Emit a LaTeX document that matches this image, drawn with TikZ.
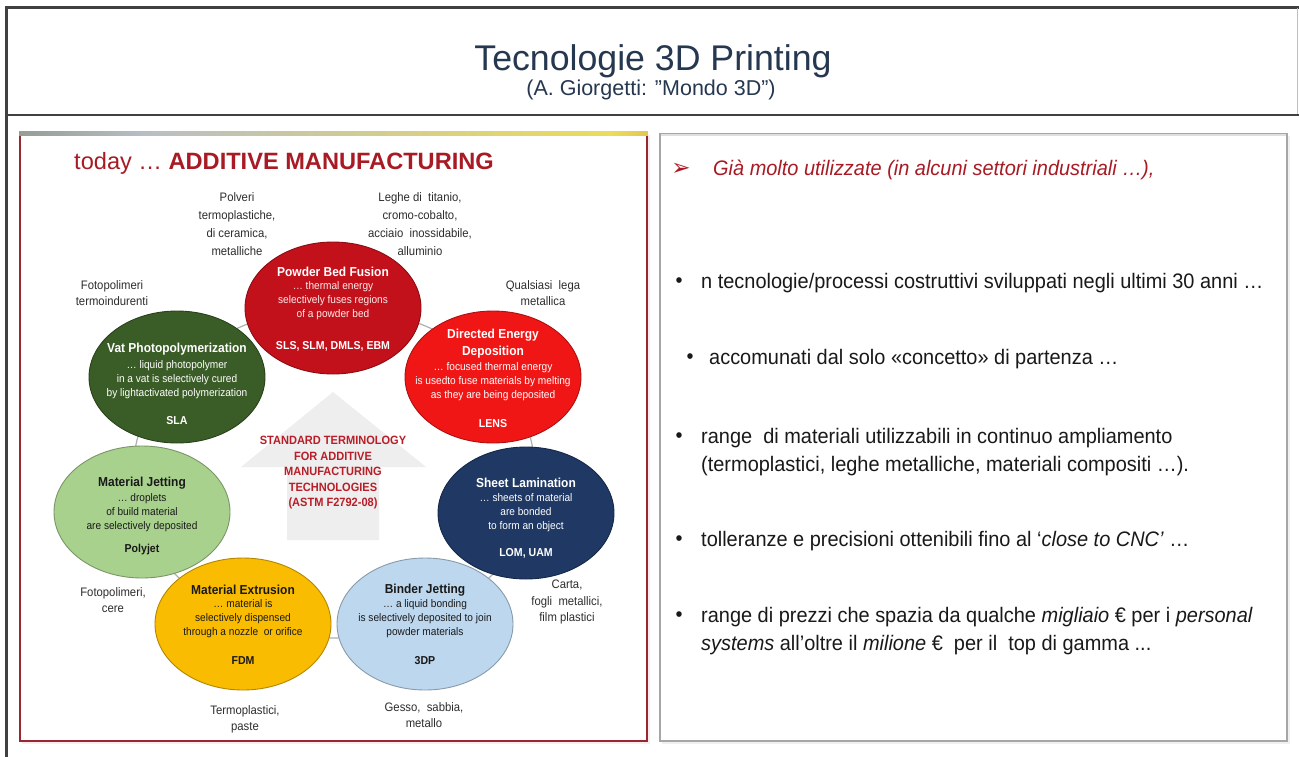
\documentclass[tikz,border=0pt]{standalone}
\usepackage{fontspec}
\setmainfont{Liberation Sans}
\newfontfamily\nar{Liberation Sans}[FakeStretch=0.92]
\newfontfamily\rnar{Liberation Sans}[FakeStretch=0.95]
\newfontfamily\dej{DejaVu Sans}
\usetikzlibrary{shapes.geometric}
\definecolor{framegray}{RGB}{64,64,64}
\definecolor{titleblue}{RGB}{38,55,80}
\definecolor{amred}{RGB}{168,26,36}
\definecolor{panelred}{RGB}{150,40,50}
\definecolor{panelgray}{RGB}{166,166,166}
\definecolor{ringgray}{RGB}{175,175,175}
\definecolor{arrowgray}{RGB}{238,238,238}
\definecolor{pbfc}{RGB}{195,17,27}
\definecolor{vatc}{RGB}{58,92,38}
\definecolor{dedc}{RGB}{240,22,22}
\definecolor{mjc}{RGB}{169,209,142}
\definecolor{slc}{RGB}{31,56,100}
\definecolor{mec}{RGB}{250,188,0}
\definecolor{bjc}{RGB}{189,215,238}
\definecolor{labgray}{RGB}{45,45,45}
\definecolor{txtdark}{RGB}{25,25,25}
\definecolor{ctrred}{RGB}{185,30,40}
\definecolor{gradgreen}{RGB}{60,75,35}
\definecolor{gradgray}{RGB}{185,190,195}
\definecolor{gradyellow}{RGB}{235,220,90}
\definecolor{gradred}{RGB}{165,25,25}
\pgfdeclarehorizontalshading{topgrad}{100bp}{color(0bp)=(gradgreen); color(35bp)=(gradgray); color(72bp)=(gradyellow); color(100bp)=(gradred)}
\begin{document}
\begin{tikzpicture}[x=1pt,y=-1pt,
  ell/.style={ellipse, minimum width=176pt, minimum height=132pt, inner sep=0pt, fill=#1, draw=#1!72!black, line width=0.9pt},
  ttl/.style={font=\nar\bfseries\fontsize{13}{16.5}\selectfont, align=center},
  dsc/.style={font=\nar\fontsize{11}{14}\selectfont, align=center},
  acr/.style={font=\nar\bfseries\fontsize{11.5}{14}\selectfont},
  lab/.style={font=\nar\fontsize{12.3}{16.3}\selectfont, align=center, text=labgray},
  rtxt/.style={font=\rnar\fontsize{21}{28.5}\selectfont, text=txtdark, anchor=west, align=left, inner sep=0pt},
  bul/.style={font=\rnar\fontsize{21}{28}\selectfont, text=txtdark, inner sep=0pt}
]
\useasboundingbox (0,0) rectangle (1299,756);
\fill[white] (0,0) rectangle (1299,756);
% outer frame
\draw[framegray, line width=2.5pt] (6.5,760) -- (6.5,7.5) -- (1300,7.5);
\draw[framegray, line width=2.5pt] (6.5,115) -- (1300,115);
\draw[gray!50, line width=1pt] (1297,8) -- (1297,114);
% title
\node[font=\fontsize{35.7}{40}\selectfont, text=titleblue] (title) at (653,61) {Tecnologie 3D Printing};
\node[font=\fontsize{21.5}{24}\selectfont, text=titleblue] (subtitle) at (651,90) {(A. Giorgetti: ”Mondo 3D”)};
% left panel
\fill[red!8] (22,135) rectangle (650,744);
\fill[white] (20,133) rectangle (647,741);
\draw[panelred, line width=1.6pt] (20,133) rectangle (647,741);
\shade[shading=topgrad] (19.2,131) rectangle (647.8,135);
% right panel
\fill[gray!12] (662,136) rectangle (1290,744);
\fill[white] (660,134) rectangle (1287,741);
\draw[panelgray, line width=1.6pt] (660,134) rectangle (1287,741);
\draw[gray!25, line width=2pt] (661,135) -- (1286,135);
% heading
\node[anchor=west, text=amred, font=\fontsize{23.6}{26}\selectfont, inner sep=0pt] (heading) at (74,163) {today … \textbf{ADDITIVE MANUFACTURING}};
% ring and arrow
\draw[ringgray, line width=1.2pt] (334,473) ellipse [x radius=201pt, y radius=165pt];
\fill[arrowgray] (333,392) -- (426,467) -- (379,467) -- (379,540) -- (287,540) -- (287,467) -- (241,467) -- cycle;
\node[font=\nar\bfseries\fontsize{12}{15.5}\selectfont, text=ctrred, align=center] (ctr) at (333,473)
  {STANDARD TERMINOLOGY\\FOR ADDITIVE\\MANUFACTURING\\TECHNOLOGIES\\(ASTM F2792-08)};
% ellipses
\node[ell=pbfc] (pbf) at (333,308) {};
\node[ell=vatc] (vat) at (177,377) {};
\node[ell=dedc] (ded) at (493,377) {};
\node[ell=mjc] (mj) at (142,512) {};
\node[ell=slc] (sl) at (526,513) {};
\node[ell=mec] (me) at (243,624) {};
\node[ell=bjc] (bj) at (425,624) {};
% PBF
\node[ttl, text=white] (pbft) at (333,272) {Powder Bed Fusion};
\node[dsc, text=white!92!red] (pbfd) at (333,301) {… thermal energy\\selectively fuses regions\\of a powder bed};
\node[acr, text=white] (pbfa) at (333,346) {SLS, SLM, DMLS, EBM};
% Vat
\node[ttl, text=white] (vatt) at (177,349) {Vat Photopolymerization};
\node[dsc, text=white] (vatd) at (177,380) {… liquid photopolymer\\in a vat is selectively cured\\by lightactivated polymerization};
\node[acr, text=white] (vata) at (177,421) {SLA};
% DED
\node[ttl, text=white] (dedt) at (493,343.5) {Directed Energy\\Deposition};
\node[dsc, text=white] (dedd) at (493,382) {… focused thermal energy\\is usedto fuse materials by melting\\as they are being deposited};
\node[acr, text=white] (deda) at (493,424) {LENS};
% MJ
\node[ttl, text=txtdark] (mjt) at (142,483) {Material Jetting};
\node[dsc, text=txtdark] (mjd) at (142,513) {… droplets\\of build material\\are selectively deposited};
\node[acr, text=txtdark] (mja) at (142,550) {Polyjet};
% SL
\node[ttl, text=white] (slt) at (526,483) {Sheet Lamination};
\node[dsc, text=white] (sld) at (526,513) {… sheets of material\\are bonded\\to form an object};
\node[acr, text=white] (sla) at (526,553) {LOM, UAM};
% ME
\node[ttl, text=txtdark] (met) at (243,590) {Material Extrusion};
\node[dsc, text=txtdark] (med) at (243,619) {… material is\\selectively dispensed\\through a nozzle\ \ or orifice};
\node[acr, text=txtdark] (mea) at (243,661) {FDM};
% BJ
\node[ttl, text=txtdark] (bjt) at (425,590) {Binder Jetting};
\node[dsc, text=txtdark] (bjd) at (425,619) {… a liquid bonding\\is selectively deposited to join\\powder materials};
\node[acr, text=txtdark] (bja) at (425,661) {3DP};
% material labels
\node[lab, font=\nar\fontsize{12.3}{18}\selectfont] (l1) at (237,224.5) {Polveri\\termoplastiche,\\di ceramica,\\metalliche};
\node[lab, font=\nar\fontsize{12.3}{18}\selectfont] (l2) at (420,224.5) {Leghe di\ \ titanio,\\cromo-cobalto,\\acciaio\ \ inossidabile,\\alluminio};
\node[lab] (l3) at (112,293) {Fotopolimeri\\termoindurenti};
\node[lab] (l4) at (543,293) {Qualsiasi\ \ lega\\metallica};
\node[lab] (l5) at (113,600) {Fotopolimeri,\\cere};
\node[lab] (l6) at (567,602) {Carta,\\fogli\ \ metallici,\\film plastici};
\node[lab] (l7) at (245,719) {Termoplastici,\\paste};
\node[lab] (l8) at (424,715) {Gesso,\ \ sabbia,\\metallo};
% right panel text
\node[font=\dej\fontsize{23}{24}\selectfont, text=amred, inner sep=0pt] (arr) at (681,169) {➢};
\node[rtxt, text=amred] (gia) at (713,170) {\itshape Già molto utilizzate (in alcuni settori industriali …),};
\node[bul] (b1) at (679,283) {•};
\node[rtxt] (t1) at (701,283) {n tecnologie/processi costruttivi sviluppati negli ultimi 30 anni …};
\node[bul] (b2) at (690,359) {•};
\node[rtxt] (t2) at (709,359) {accomunati dal solo «concetto» di partenza …};
\node[bul] (b3) at (679,438) {•};
\node[rtxt] (t3) at (701,452) {range\ \ di materiali utilizzabili in continuo ampliamento\\(termoplastici, leghe metalliche, materiali compositi …).};
\node[bul] (b4) at (679,541) {•};
\node[rtxt] (t4) at (701,541) {tolleranze e precisioni ottenibili fino al ‘\textit{close to CNC’} …};
\node[bul] (b5) at (679,617) {•};
\node[rtxt] (t5) at (701,631) {range di prezzi che spazia da qualche \textit{migliaio} € per i \textit{personal}\\\textit{systems} all’oltre il \textit{milione} €\ \ per il\ \ top di gamma ...};
\end{tikzpicture}
\end{document}
